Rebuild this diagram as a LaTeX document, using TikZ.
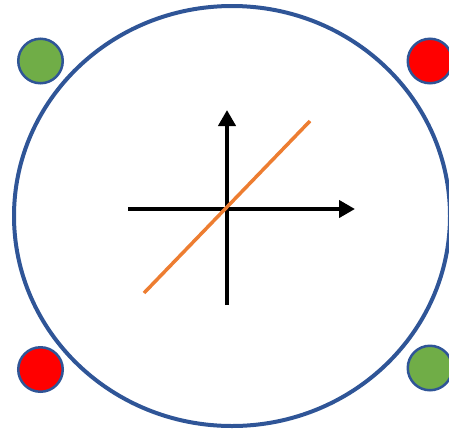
\documentclass[tikz,border=0pt]{standalone}
\usepackage{xcolor}
\usepackage{tikz}
\usetikzlibrary{arrows.meta,shapes.geometric}
\definecolor{ringBlue}{HTML}{2F5597}
\definecolor{dotGreen}{HTML}{70AD47}
\definecolor{dotRed}{HTML}{FF0000}
\definecolor{lineOrange}{HTML}{ED7D31}
\tikzset{
    bigRing/.style={
        draw=ringBlue,
        ellipse,
        line width=4pt,
        minimum width=436pt,
        minimum height=420pt,
        inner sep=0pt
    },
    cornerDot/.style={
        draw=ringBlue,
        circle,
        line width=2.5pt,
        minimum size=44.5pt,
        inner sep=0pt
    },
    axisArrow/.style={
        -{Triangle[length=16pt,width=17pt]},
        line width=4pt
    },
    fitLine/.style={
        lineOrange,
        line width=3.5pt
    }
}

\begin{document}
\begin{tikzpicture}[x=1pt,y=-1pt]
        \useasboundingbox[clip] (0,0) rectangle (449,429);
        \node[bigRing] (ring) at (232,216) {};

        \node[cornerDot,fill=dotGreen] (topLeft) at (40.5,61) {};
        \node[cornerDot,fill=dotRed] (topRight) at (430,61) {};
        \node[cornerDot,fill=dotRed] (bottomLeft) at (40.5,369.5) {};
        \node[cornerDot,fill=dotGreen] (bottomRight) at (430,368) {};

        \coordinate (xStart) at (128,209);
        \coordinate (xEnd) at (355,209);
        \coordinate (yStart) at (227,305);
        \coordinate (yEnd) at (227,110);
        \coordinate (lineLow) at (144,293);
        \coordinate (lineHigh) at (310,121);

        \draw[axisArrow] (xStart) -- (xEnd);
        \draw[axisArrow] (yStart) -- (yEnd);
        \draw[fitLine] (lineLow) -- (lineHigh);
    \end{tikzpicture}
\end{document}
